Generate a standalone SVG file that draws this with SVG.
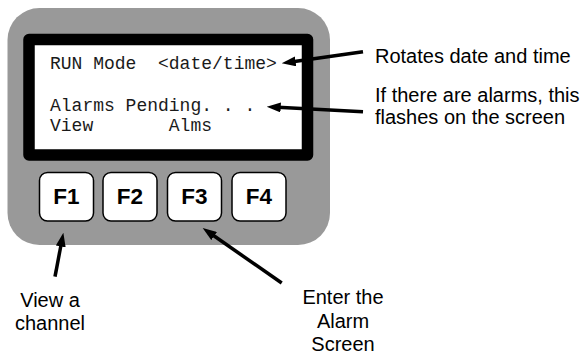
<svg xmlns="http://www.w3.org/2000/svg" width="584" height="356" viewBox="0 0 584 356">
<style>
.lcd{font-family:"Liberation Mono","Courier New",monospace;font-size:18px;fill:#1a1a1a;white-space:pre}
.key{font-family:"Liberation Sans",Arial,sans-serif;font-weight:bold;font-size:22.5px;fill:#000;text-anchor:middle}
.lbl{font-family:"Liberation Sans",Arial,sans-serif;font-size:20px;fill:#000}
.btn{fill:#fff;stroke:#000;stroke-width:1.5}
.arr{stroke:#000;stroke-width:3.5;fill:none;marker-end:url(#ah)}
</style>
<defs>
<marker id="ah" markerUnits="userSpaceOnUse" viewBox="0 0 14 10" markerWidth="14" markerHeight="10" refX="3" refY="5" orient="auto">
<path d="M0,0 L14,5 L0,10 z" fill="#000"/>
</marker>
</defs>
<g id="device">
<rect x="7.5" y="8" width="322.5" height="237" rx="32" fill="#999"/>
</g>
<g id="screen">
<rect x="29" y="39.5" width="278.5" height="115.5" fill="#fff" stroke="#000" stroke-width="11.5" stroke-linejoin="round"/>
<text class="lcd" x="50" y="69" xml:space="preserve">RUN Mode  &lt;date/time&gt;</text>
<text class="lcd" x="50" y="111" xml:space="preserve">Alarms Pending. . .</text>
<text class="lcd" x="50" y="130.5" xml:space="preserve">View       Alms</text>
</g>
<g id="F1"><rect class="btn" x="39.5" y="172.5" width="54" height="48.5" rx="8"/><text class="key" x="66.5" y="204">F1</text></g>
<g id="F2"><rect class="btn" x="103" y="172.5" width="54" height="48.5" rx="8"/><text class="key" x="130" y="204">F2</text></g>
<g id="F3"><rect class="btn" x="167.5" y="172.5" width="54" height="48.5" rx="8"/><text class="key" x="194.5" y="204">F3</text></g>
<g id="F4"><rect class="btn" x="232" y="172.5" width="54" height="48.5" rx="8"/><text class="key" x="259" y="204">F4</text></g>
<g id="label-rotates"><text class="lbl" x="375" y="63">Rotates date and time</text></g>
<g id="label-alarms"><text class="lbl" x="375" y="102">If there are alarms, this</text><text class="lbl" x="375" y="123.5">flashes on the screen</text></g>
<g id="label-view" text-anchor="middle"><text class="lbl" x="50" y="307">View a</text><text class="lbl" x="50" y="330">channel</text></g>
<g id="label-enter" text-anchor="middle"><text class="lbl" x="343" y="304">Enter the</text><text class="lbl" x="343" y="327.5">Alarm</text><text class="lbl" x="343" y="351">Screen</text></g>
<g id="connectors">
<line class="arr" x1="363" y1="51.7" x2="292.6" y2="61.75"/>
<line class="arr" x1="363" y1="111.7" x2="277.7" y2="107.3"/>
<line class="arr" x1="55" y1="276.7" x2="61.3" y2="243.5"/>
<line class="arr" x1="281.7" y1="283" x2="211.7" y2="234.3"/>
</g>
</svg>
